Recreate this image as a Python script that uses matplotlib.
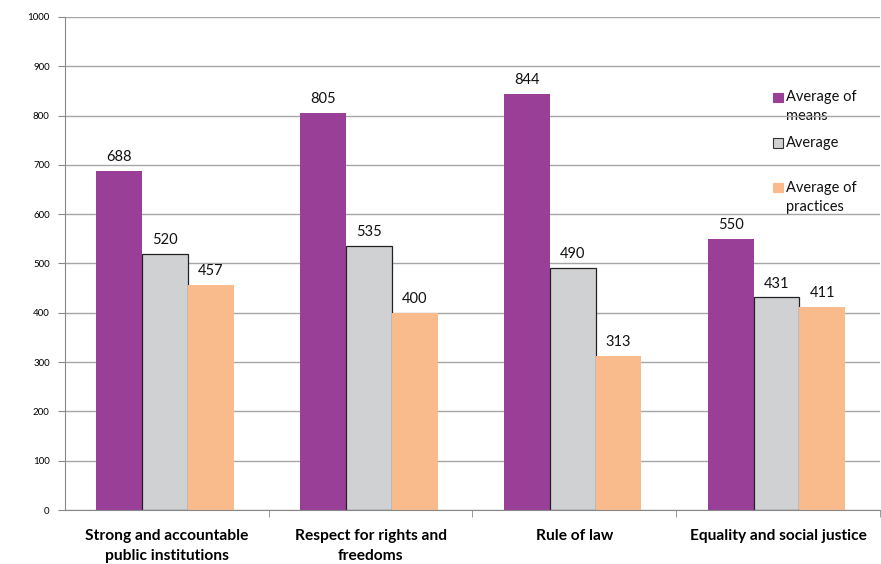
import numpy as np
import matplotlib
matplotlib.use("Agg")
import matplotlib.pyplot as plt
from matplotlib.patches import Rectangle

categories = [
    "Strong and accountable\npublic institutions",
    "Respect for rights and\nfreedoms",
    "Rule of law",
    "Equality and social justice",
]
series_names = ["Average of\nmeans", "Average", "Average of\npractices"]
means = [688, 805, 844, 550]
average = [520, 535, 490, 431]
practices = [457, 400, 313, 411]
y_ticks = list(range(0, 1001, 100))

colors = ["#993F98", "#D0D1D3", "#F9BB8C"]
edges = ["none", "#222222", "none"]

plt.rcParams["font.family"] = ["Lato", "DejaVu Sans"]

fig = plt.figure(figsize=(8.81, 5.64), dpi=100)
ax = fig.add_axes([0.0738, 0.0957, 0.9250, 0.8743])

x = np.arange(len(categories))
width = 0.225
for i, (vals, col, ec) in enumerate(zip([means, average, practices], colors, edges)):
    pos = x + (i - 1) * width - 0.008
    bars = ax.bar(pos, vals, width, color=col, edgecolor=ec, linewidth=0.9, zorder=2)
    for b, v in zip(bars, vals):
        ax.annotate(str(v), (b.get_x() + b.get_width() / 2, v), xytext=(0, 5),
                    textcoords="offset points", ha="center", va="bottom",
                    fontsize=10.5, color="#111111")

ax.set_xlim(-0.5, len(categories) - 0.5)
ax.set_ylim(0, 1000)
ax.set_yticks(y_ticks)
ax.tick_params(axis="y", labelsize=7, length=5, color="#888888", pad=6)
ax.yaxis.grid(True, color="#A6A6A6", linewidth=1.0)
ax.set_axisbelow(True)

ax.set_xticks(x)
ax.set_xticklabels(categories, fontsize=11.2, fontweight="bold", linespacing=1.5)
ax.tick_params(axis="x", length=0, pad=14)
ax.set_xticks(np.arange(len(categories)) + 0.5, minor=True)
ax.tick_params(axis="x", which="minor", length=5, color="#888888")

for s in ["top", "right"]:
    ax.spines[s].set_visible(False)
for s in ["left", "bottom"]:
    ax.spines[s].set_color("#888888")

# legend drawn by hand so the marker sits on the first text line
leg_y = [0.836, 0.744, 0.653]
for name, col, ec, yy in zip(series_names, colors, edges, leg_y):
    ax.add_patch(Rectangle((0.869, yy - 0.009), 0.0115, 0.019, transform=ax.transAxes,
                           facecolor=col, edgecolor=("#333333" if ec != "none" else col),
                           linewidth=0.8, zorder=3, clip_on=False))
    ax.text(0.885, yy + 0.015, name, transform=ax.transAxes, fontsize=10.5,
            va="top", ha="left", linespacing=1.45, color="#111111", zorder=0.1)

fig.savefig("out.png", dpi=100)
